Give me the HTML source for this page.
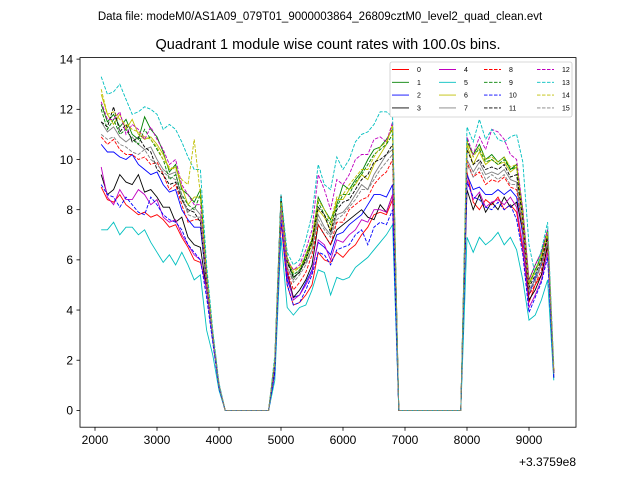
<!DOCTYPE html>
<html><head><meta charset="utf-8"><style>
body{margin:0;background:#fff}
svg{display:block;font-family:"Liberation Sans","DejaVu Sans",sans-serif}
</style></head><body>
<svg id="chart" width="640" height="480">
<text x="320" y="20" font-size="11.5" text-anchor="middle">Data file: modeM0/AS1A09_079T01_9000003864_26809cztM0_level2_quad_clean.evt</text>
<text x="328" y="49" font-size="14.5" text-anchor="middle">Quadrant 1 module wise count rates with 100.0s bins.</text>
<g id="plot"></g>
<rect x="80" y="57.6" width="496" height="369.6" fill="none" stroke="#000" stroke-width="0.8"/>
<g id="xt"></g>
<g id="yt"></g>
<text x="576" y="466" font-size="12" text-anchor="end">+3.3759e8</text>
<g id="legend"></g>
</svg>
<script>
const xTicks=[2000,3000,4000,5000,6000,7000,8000,9000];
const yTicks=[0,2,4,6,8,10,12,14];
const binStart=2100, binStep=100;
const gap1=[0,0,0,0,0,0,0,0];
const gap2=[0,0,0,0,0,0,0,0,0,0,0];
const segA=[
[8.9,8.4,8.3,8.6,8.2,8.0,7.8,7.9,7.7,7.8,7.6,7.3,7.4,6.9,6.5,6.0,5.9,5.0,3.0,1.0],
[12.2,11.5,11.8,11.3,11.6,11.0,10.8,11.7,11.2,10.9,10.3,9.5,9.8,8.8,8.6,8.3,8.8,5.5,3.0,1.0],
[10.6,10.3,10.3,10.1,10.0,10.2,9.8,9.6,9.4,9.5,9.0,8.7,8.8,8.0,7.6,7.3,7.3,5.0,3.0,1.0],
[9.4,8.6,8.8,9.4,9.1,9.0,9.4,8.7,8.8,8.5,8.1,8.1,7.5,7.7,6.9,6.6,6.5,4.8,2.8,0.9],
[9.7,8.5,8.2,8.8,8.4,8.4,8.8,8.6,8.2,8.4,7.7,7.5,7.6,7.0,6.6,6.2,6.0,4.8,2.8,0.9],
[7.2,7.2,7.5,7.0,7.3,7.3,7.0,7.2,6.7,6.3,5.9,6.2,5.8,6.3,5.8,5.2,5.4,3.2,2.2,0.8],
[12.6,11.8,11.4,11.8,11.2,11.6,11.0,10.8,10.9,10.6,10.2,9.6,9.7,8.9,8.2,8.5,8.5,5.3,3.0,1.0],
[11.5,11.1,11.3,10.9,10.7,10.9,10.6,10.4,10.5,10.0,9.6,9.4,9.5,8.4,7.9,8.1,7.8,5.0,2.9,1.0],
[10.9,10.6,10.8,10.4,10.2,10.2,10.0,10.1,9.8,9.9,9.4,8.8,9.0,8.2,7.5,7.6,7.6,5.0,3.0,1.0],
[12.0,11.2,11.6,11.0,11.2,10.8,10.6,11.2,10.8,10.4,10.0,9.2,9.4,8.6,8.2,8.0,8.6,5.4,3.0,1.0],
[9.0,8.6,8.5,8.1,8.5,8.2,7.9,7.8,8.5,8.2,7.8,7.6,7.5,7.2,6.6,6.3,6.0,4.5,2.7,0.9],
[11.5,11.3,12.1,11.1,11.4,10.7,10.9,10.5,10.3,9.6,9.4,9.0,9.1,8.4,8.0,7.9,7.5,5.1,3.0,1.0],
[12.3,11.6,11.6,11.9,11.0,11.4,11.2,10.8,11.3,10.8,10.4,9.8,10.0,9.0,8.6,8.2,8.2,5.3,3.0,1.0],
[13.3,12.6,12.7,13.0,12.4,11.8,11.9,12.1,12.0,11.8,11.2,11.4,11.2,10.7,10.1,9.6,9.6,5.8,3.2,1.1],
[12.8,11.8,11.9,11.6,11.4,11.2,11.1,10.9,10.8,10.5,10.0,9.7,9.6,9.2,9.0,10.8,8.6,5.4,3.0,1.0],
[11.0,10.8,10.9,10.6,10.5,10.3,10.2,10.4,10.0,9.8,9.5,9.3,9.2,8.6,7.8,7.7,7.7,5.0,2.9,1.0]];
const segB=[
[1.5,7.5,5.0,4.2,4.3,4.6,5.0,6.3,6.0,5.9,6.3,6.1,6.4,6.6,7.0,7.3,7.8,7.9,7.8,8.4],
[2.0,8.5,6.0,5.3,5.5,6.2,6.8,8.5,8.0,7.6,8.2,9.0,8.8,9.2,9.5,10.0,10.4,10.5,10.8,11.2],
[1.8,8.3,5.2,4.5,4.6,5.1,5.6,6.7,6.5,6.2,7.0,7.1,7.4,7.6,7.8,8.2,8.6,8.6,8.5,9.0],
[1.6,8.6,5.5,4.5,4.8,5.2,5.8,7.4,7.0,6.6,7.2,7.4,7.6,7.8,8.0,7.7,7.6,8.2,7.9,8.6],
[1.5,8.0,5.4,4.4,4.6,5.0,5.5,6.8,6.6,6.0,6.8,6.7,7.0,7.2,7.6,7.5,8.0,8.0,7.9,8.6],
[1.2,6.9,4.1,3.8,4.1,4.2,4.8,5.6,5.5,4.6,5.3,5.2,5.3,5.7,5.9,6.1,6.4,6.7,7.0,7.4],
[2.0,8.4,6.0,5.6,5.7,6.0,6.6,8.0,7.7,7.2,8.4,8.4,8.8,9.0,9.4,9.2,9.8,10.2,10.6,11.4],
[1.9,8.2,5.7,5.2,5.6,5.9,6.4,7.8,7.3,7.0,7.8,7.9,8.2,8.6,9.0,8.8,9.4,9.8,10.2,10.4],
[1.8,8.0,5.6,4.8,5.1,5.5,6.2,7.4,7.0,6.6,7.5,7.5,8.0,8.2,8.4,8.5,9.0,9.3,9.5,10.0],
[2.0,8.4,6.1,5.4,5.6,6.1,6.8,8.3,7.8,7.4,8.1,8.6,8.6,9.1,9.4,9.8,10.2,10.4,10.6,11.0],
[1.5,7.6,5.0,4.2,4.3,4.8,5.4,6.3,6.2,5.8,6.4,6.5,6.6,7.0,7.2,6.6,7.3,7.5,7.4,8.0],
[1.9,8.5,5.9,5.3,5.5,6.0,6.7,8.1,7.8,7.1,8.0,8.3,8.4,8.8,9.2,9.4,9.9,10.0,10.2,10.6],
[2.0,8.2,6.0,5.6,5.8,6.4,7.2,9.4,8.8,8.0,9.2,9.0,9.4,10.0,10.2,10.2,10.8,10.9,10.7,11.5],
[2.2,8.6,6.3,5.8,6.0,6.8,7.8,9.8,9.0,8.8,10.1,9.6,10.0,10.7,11.0,11.1,11.4,11.9,11.9,11.7],
[2.0,8.3,6.0,5.5,5.7,6.2,6.9,8.4,8.0,7.5,8.5,8.6,9.0,9.3,9.6,9.6,10.1,10.5,10.7,11.3],
[1.8,8.0,5.7,5.1,5.4,5.8,6.4,7.6,7.2,6.9,7.6,7.8,8.1,8.4,8.8,8.8,9.2,9.6,9.9,10.2]];
const segC=[
[9.5,8.3,8.0,8.4,8.2,8.5,8.0,8.2,7.9,6.4,4.3,5.0,5.4,6.5,1.5],
[10.7,10.2,10.6,10.0,10.2,9.9,10.1,9.6,9.8,8.0,5.2,5.8,6.3,7.2,1.5],
[9.4,8.8,8.9,8.6,8.6,8.8,8.6,8.8,8.5,7.0,4.6,5.3,5.8,6.8,1.5],
[8.8,8.0,8.6,7.9,8.3,8.0,8.5,8.1,8.3,7.2,4.4,4.8,5.4,6.6,1.3],
[9.2,8.4,8.7,8.1,8.3,8.4,8.2,8.5,8.1,6.6,4.1,4.6,5.2,6.3,1.4],
[6.9,6.3,6.9,6.6,6.8,7.1,6.6,6.9,6.4,5.2,3.6,3.8,4.4,5.2,1.2],
[10.6,9.8,10.3,9.8,10.0,9.8,9.9,9.5,9.7,7.6,5.1,5.6,6.2,7.0,1.6],
[10.0,9.5,9.9,9.4,9.5,9.4,9.6,9.2,9.1,7.2,4.8,5.2,5.9,6.8,1.5],
[9.9,9.3,9.5,9.0,9.2,9.1,9.3,8.9,8.8,7.2,4.6,5.0,5.6,6.9,1.5],
[10.8,10.2,10.4,9.9,10.0,9.8,10.0,9.6,9.7,7.8,5.0,5.6,6.1,7.0,1.5],
[9.1,8.5,8.4,8.1,8.0,8.3,8.0,8.2,7.6,6.2,3.9,4.5,5.1,6.1,1.3],
[10.4,9.8,10.0,9.6,9.7,9.6,9.8,9.3,9.4,7.6,4.9,5.4,6.0,6.9,1.5],
[10.9,10.2,10.9,10.4,11.2,11.1,10.8,10.2,10.0,8.0,5.2,5.8,6.3,7.2,1.6],
[11.3,10.7,11.6,10.8,11.2,10.8,10.7,10.9,11.0,9.9,6.6,5.4,6.4,7.5,1.8],
[10.7,10.1,10.5,10.0,10.1,9.9,10.1,9.7,9.8,7.8,5.0,5.5,6.1,7.1,1.6],
[9.8,9.3,9.7,9.2,9.4,9.2,9.4,9.0,9.0,7.2,4.7,5.1,5.8,6.7,1.5]];
const colors=['#ff0000','#008000','#0000ff','#000000','#bf00bf','#00bfbf','#bfbf00','#808080'];
const NS='http://www.w3.org/2000/svg';
function xS(v){return 95+(v-2000)*0.062;}
function yS(v){return 410.4-v*25.09;}
function mk(t,a,p){const e=document.createElementNS(NS,t);for(const k in a)e.setAttribute(k,a[k]);p.appendChild(e);return e;}
const plot=document.getElementById('plot');
for(let s=0;s<16;s++){
  const vals=segA[s].concat(gap1,segB[s],gap2,segC[s]);
  const pts=vals.map((v,i)=>xS(binStart+i*binStep).toFixed(1)+','+yS(v).toFixed(1)).join(' ');
  const a={points:pts,fill:'none',stroke:colors[s%8],'stroke-width':0.9};
  if(s>=8)a['stroke-dasharray']='3.5,1.5';
  const pl=mk('polyline',a,plot);
  
  
}
const xt=document.getElementById('xt');
xTicks.forEach(v=>{const x=xS(v);
  mk('line',{x1:x,x2:x,y1:427.2,y2:430.7,stroke:'#000','stroke-width':0.8},xt);
  const t=mk('text',{x:x,y:444,'font-size':12,'text-anchor':'middle'},xt);t.textContent=v;
  
  
});
const yt=document.getElementById('yt');
yTicks.forEach(v=>{const y=yS(v);
  mk('line',{x1:76.5,x2:80,y1:y,y2:y,stroke:'#000','stroke-width':0.8},yt);
  const t=mk('text',{x:73,y:y+4.3,'font-size':12,'text-anchor':'end'},yt);t.textContent=v;
  
  
});
const lg=document.getElementById('legend');
mk('rect',{x:390,y:62,width:182,height:55,rx:2,fill:'#fff',stroke:'#ccc','stroke-width':0.8},lg);
const colX=[392,439,484,537];
for(let s=0;s<16;s++){
  const c=Math.floor(s/4),r=s%4,x=colX[c],y=69.5+r*12.8;
  const a={x1:x,x2:x+17,y1:y,y2:y,stroke:colors[s%8],'stroke-width':0.9};
  if(s>=8)a['stroke-dasharray']='3.5,1.5';
  mk('line',a,lg);
  const t=mk('text',{x:x+25,y:y+2.5,'font-size':7},lg);t.textContent=s;
  
  
}
</script>
</body></html>
